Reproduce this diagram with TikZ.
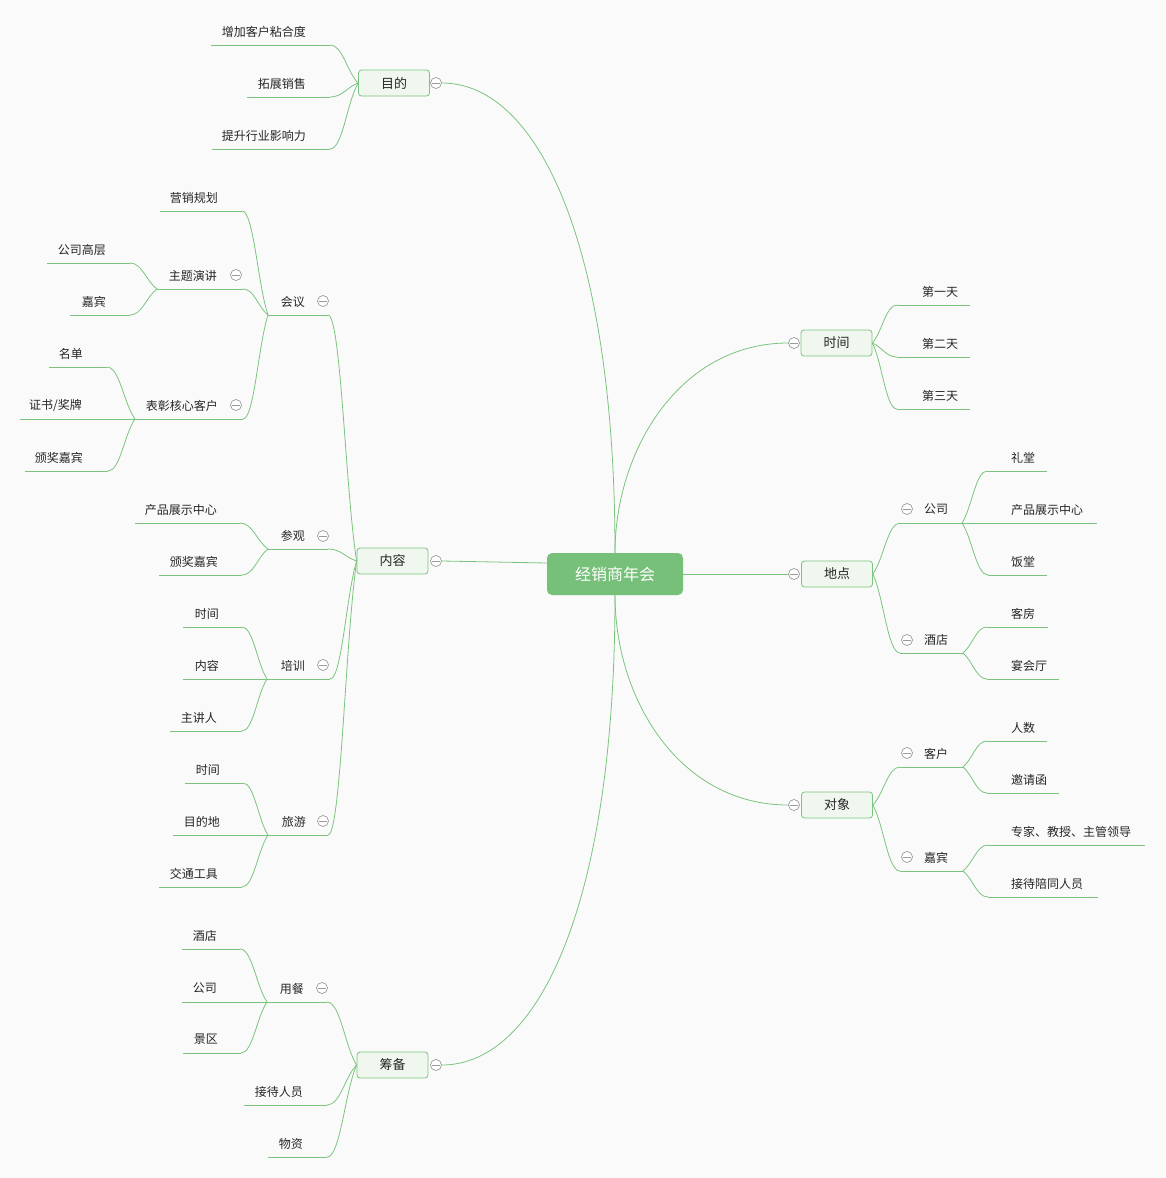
\documentclass[tikz,border=0pt]{standalone}
\usepackage{fontspec}
\setmainfont{Noto Sans CJK SC}
\usetikzlibrary{calc}
\definecolor{lc}{HTML}{7CC47E}
\definecolor{bf}{HTML}{EFF7EE}
\definecolor{cf}{HTML}{76C079}
\definecolor{tc}{HTML}{262626}
\definecolor{bgc}{HTML}{FAFAFA}
\definecolor{cg}{HTML}{9A9A9A}
\tikzset{
 lk/.style={draw=lc, line width=0.8pt},
 ulin/.style={lk},
 conn/.style={lk, to path={let \p1=(\tikztostart), \p2=(\tikztotarget) in .. controls ({0.55*\x1+0.45*\x2},\y1) and ({0.4*\x1+0.6*\x2},{0.3*\y1+0.7*\y2}) .. (\tikztotarget)}},
 lt/.style={inner sep=0pt, text=tc, font=\fontsize{12}{14}\selectfont},
 topbox/.style={draw=lc, fill=bf, rounded corners=3pt, minimum width=71pt, minimum height=26pt, inner sep=0pt, text=tc, font=\fontsize{13}{15}\selectfont, line width=0.8pt},
 hub/.style={fill=cf, rounded corners=5pt, minimum width=136pt, minimum height=42pt, inner sep=0pt, text=white, font=\fontsize{16}{18}\selectfont},
 coll/.style={circle, draw=cg, fill=white, minimum size=11pt, inner sep=0pt, line width=0.7pt,
   path picture={\draw[cg, line width=0.7pt] ([xshift=-3.8pt]path picture bounding box.center) -- ([xshift=3.8pt]path picture bounding box.center);}},
}
\newcommand\mmleaf[7]{%
  \node[lt,anchor=#3] (#1) at (#4,#5-13.5) {#2};
  \coordinate (#1-l) at (#6,#5);
  \coordinate (#1-r) at (#7,#5);
  \draw[ulin] (#1-l) -- (#1-r);
}
\begin{document}
\begin{tikzpicture}[x=1pt,y=-1pt]
\fill[bgc] (0,0) rectangle (1165,1178);
\useasboundingbox (0,0) rectangle (1165,1178);

% center and main topics
\node[hub] (C) at (615,574) {经销商年会};
\node[topbox] (mudi) at (394,83) {目的};
\node[topbox] (neirong) at (392.5,561) {内容};
\node[topbox] (choubei) at (392.5,1065) {筹备};
\node[topbox] (shijian) at (836.5,343) {时间};
\node[topbox] (didian) at (837,574) {地点};
\node[topbox] (duixiang) at (837,805) {对象};
\node[coll] (mudi-c) at (436,83) {};
\node[coll] (neirong-c) at (436,561) {};
\node[coll] (choubei-c) at (436,1065) {};
\node[coll] (shijian-c) at (794,343) {};
\node[coll] (didian-c) at (794,574) {};
\node[coll] (duixiang-c) at (794,805) {};

\draw[lk] (C.north) .. controls (615,250) and (540,83) .. (mudi-c.east);
\draw[lk] ([yshift=11pt]C.west) -- (neirong-c.east);
\draw[lk] (C.south) .. controls (615,900) and (540,1065) .. (choubei-c.east);
\draw[lk] (C.north) .. controls (615,450) and (680,343) .. (shijian-c.west);
\draw[lk] (C.east) -- (didian-c.west);
\draw[lk] (C.south) .. controls (615,700) and (680,805) .. (duixiang-c.west);

% ---- 目的
\mmleaf{a1}{增加客户粘合度}{east}{306}{45}{211}{330}
\mmleaf{a2}{拓展销售}{east}{306}{97}{247}{330}
\mmleaf{a3}{提升行业影响力}{east}{306}{149}{212}{330}
\draw[conn] (a1-r) to (mudi.west);
\draw[conn] (a2-r) to (mudi.west);
\draw[conn] (a3-r) to (mudi.west);

% ---- 内容
\mmleaf{huiyi}{会议}{east}{305}{315}{268}{328}
\node[coll] (huiyi-c) at (323,301) {};
\mmleaf{yxgh}{营销规划}{east}{218}{211}{160}{242}
\mmleaf{ztyj}{主题演讲}{east}{217}{289}{157}{243}
\node[coll] (ztyj-c) at (236,275) {};
\mmleaf{gsgc}{公司高层}{east}{106}{263}{47}{130}
\mmleaf{jb1}{嘉宾}{east}{106}{315}{70}{130}
\mmleaf{bzkh}{表彰核心客户}{east}{218}{419}{135}{243}
\node[coll] (bzkh-c) at (236,405) {};
\mmleaf{md}{名单}{east}{83}{367}{49}{107}
\mmleaf{zsjp}{证书/奖牌}{east}{82}{419}{20}{135}
\mmleaf{bjjb1}{颁奖嘉宾}{east}{83}{471}{25}{108}

\mmleaf{canguan}{参观}{east}{305}{549}{268}{328}
\node[coll] (canguan-c) at (323,536) {};
\mmleaf{cpzs1}{产品展示中心}{east}{217}{523}{135}{240}
\mmleaf{bjjb2}{颁奖嘉宾}{east}{218}{575}{159}{242}

\mmleaf{peixun}{培训}{east}{305}{679}{267}{330}
\node[coll] (peixun-c) at (323,665) {};
\mmleaf{sj1}{时间}{east}{219}{627}{183}{242}
\mmleaf{nr1}{内容}{east}{219}{679}{183}{267}
\mmleaf{zjr}{主讲人}{east}{217}{731}{170}{242}

\mmleaf{lvyou}{旅游}{east}{306}{835}{268}{328}
\node[coll] (lvyou-c) at (323,821) {};
\mmleaf{sj2}{时间}{east}{220}{783}{185}{243}
\mmleaf{mdd}{目的地}{east}{220}{835}{173}{268}
\mmleaf{jtgj}{交通工具}{east}{218}{887}{159}{242}

\draw[conn] (huiyi-r) to (neirong.west);
\draw[conn] (canguan-r) to (neirong.west);
\draw[conn] (peixun-r) to (neirong.west);
\draw[conn] (lvyou-r) to (neirong.west);
\draw[conn] (yxgh-r) to (huiyi-l);
\draw[conn] (ztyj-r) to (huiyi-l);
\draw[conn] (bzkh-r) to (huiyi-l);
\draw[conn] (gsgc-r) to (ztyj-l);
\draw[conn] (jb1-r) to (ztyj-l);
\draw[conn] (md-r) to (bzkh-l);
\draw[conn] (bjjb1-r) to (bzkh-l);
\draw[conn] (cpzs1-r) to (canguan-l);
\draw[conn] (bjjb2-r) to (canguan-l);
\draw[conn] (sj1-r) to (peixun-l);
\draw[conn] (zjr-r) to (peixun-l);
\draw[conn] (sj2-r) to (lvyou-l);
\draw[conn] (jtgj-r) to (lvyou-l);

% ---- 筹备
\mmleaf{yongcan}{用餐}{east}{304}{1002}{267}{327}
\node[coll] (yongcan-c) at (322,988) {};
\mmleaf{jd1}{酒店}{east}{217}{949}{182}{240}
\mmleaf{gs1}{公司}{east}{217}{1002}{182}{267}
\mmleaf{jq}{景区}{east}{218}{1053}{183}{241}
\mmleaf{jdry}{接待人员}{east}{303}{1105}{244}{327}
\mmleaf{wz}{物资}{east}{303}{1157}{268}{327}
\draw[conn] (yongcan-r) to (choubei.west);
\draw[conn] (jdry-r) to (choubei.west);
\draw[conn] (wz-r) to (choubei.west);
\draw[conn] (jd1-r) to (yongcan-l);
\draw[conn] (jq-r) to (yongcan-l);

% ---- 时间
\mmleaf{d1}{第一天}{west}{922}{305}{897}{970}
\mmleaf{d2}{第二天}{west}{922}{357}{897}{970}
\mmleaf{d3}{第三天}{west}{922}{409}{897}{970}
\draw[conn] (d1-l) to (shijian.east);
\draw[conn] (d2-l) to (shijian.east);
\draw[conn] (d3-l) to (shijian.east);

% ---- 地点
\mmleaf{gs}{公司}{west}{924}{523}{900}{962}
\node[coll] (gs-c) at (907,509) {};
\mmleaf{lt}{礼堂}{west}{1011}{471}{987}{1047}
\mmleaf{cpzs2}{产品展示中心}{west}{1011}{523}{962}{1097}
\mmleaf{ft}{饭堂}{west}{1011}{575}{988}{1047}
\mmleaf{jd}{酒店}{west}{924}{653}{900}{963}
\node[coll] (jd-c) at (907,640) {};
\mmleaf{kf}{客房}{west}{1011}{627}{987}{1048}
\mmleaf{yht}{宴会厅}{west}{1011}{679}{987}{1059}
\draw[conn] (gs-l) to (didian.east);
\draw[conn] (jd-l) to (didian.east);
\draw[conn] (lt-l) to (gs-r);
\draw[conn] (ft-l) to (gs-r);
\draw[conn] (kf-l) to (jd-r);
\draw[conn] (yht-l) to (jd-r);

% ---- 对象
\mmleaf{kh}{客户}{west}{924}{767}{900}{963}
\node[coll] (kh-c) at (907,753) {};
\mmleaf{rs}{人数}{west}{1011}{741}{987}{1047}
\mmleaf{yqh}{邀请函}{west}{1011}{793}{987}{1059}
\mmleaf{jb}{嘉宾}{west}{924}{871}{900}{963}
\node[coll] (jb-c) at (907,857) {};
\mmleaf{zj}{专家、教授、主管领导}{west}{1011}{845}{988}{1145}
\mmleaf{jp}{接待陪同人员}{west}{1011}{897}{988}{1098}
\draw[conn] (kh-l) to (duixiang.east);
\draw[conn] (jb-l) to (duixiang.east);
\draw[conn] (rs-l) to (kh-r);
\draw[conn] (yqh-l) to (kh-r);
\draw[conn] (zj-l) to (jb-r);
\draw[conn] (jp-l) to (jb-r);
\end{tikzpicture}
\end{document}
